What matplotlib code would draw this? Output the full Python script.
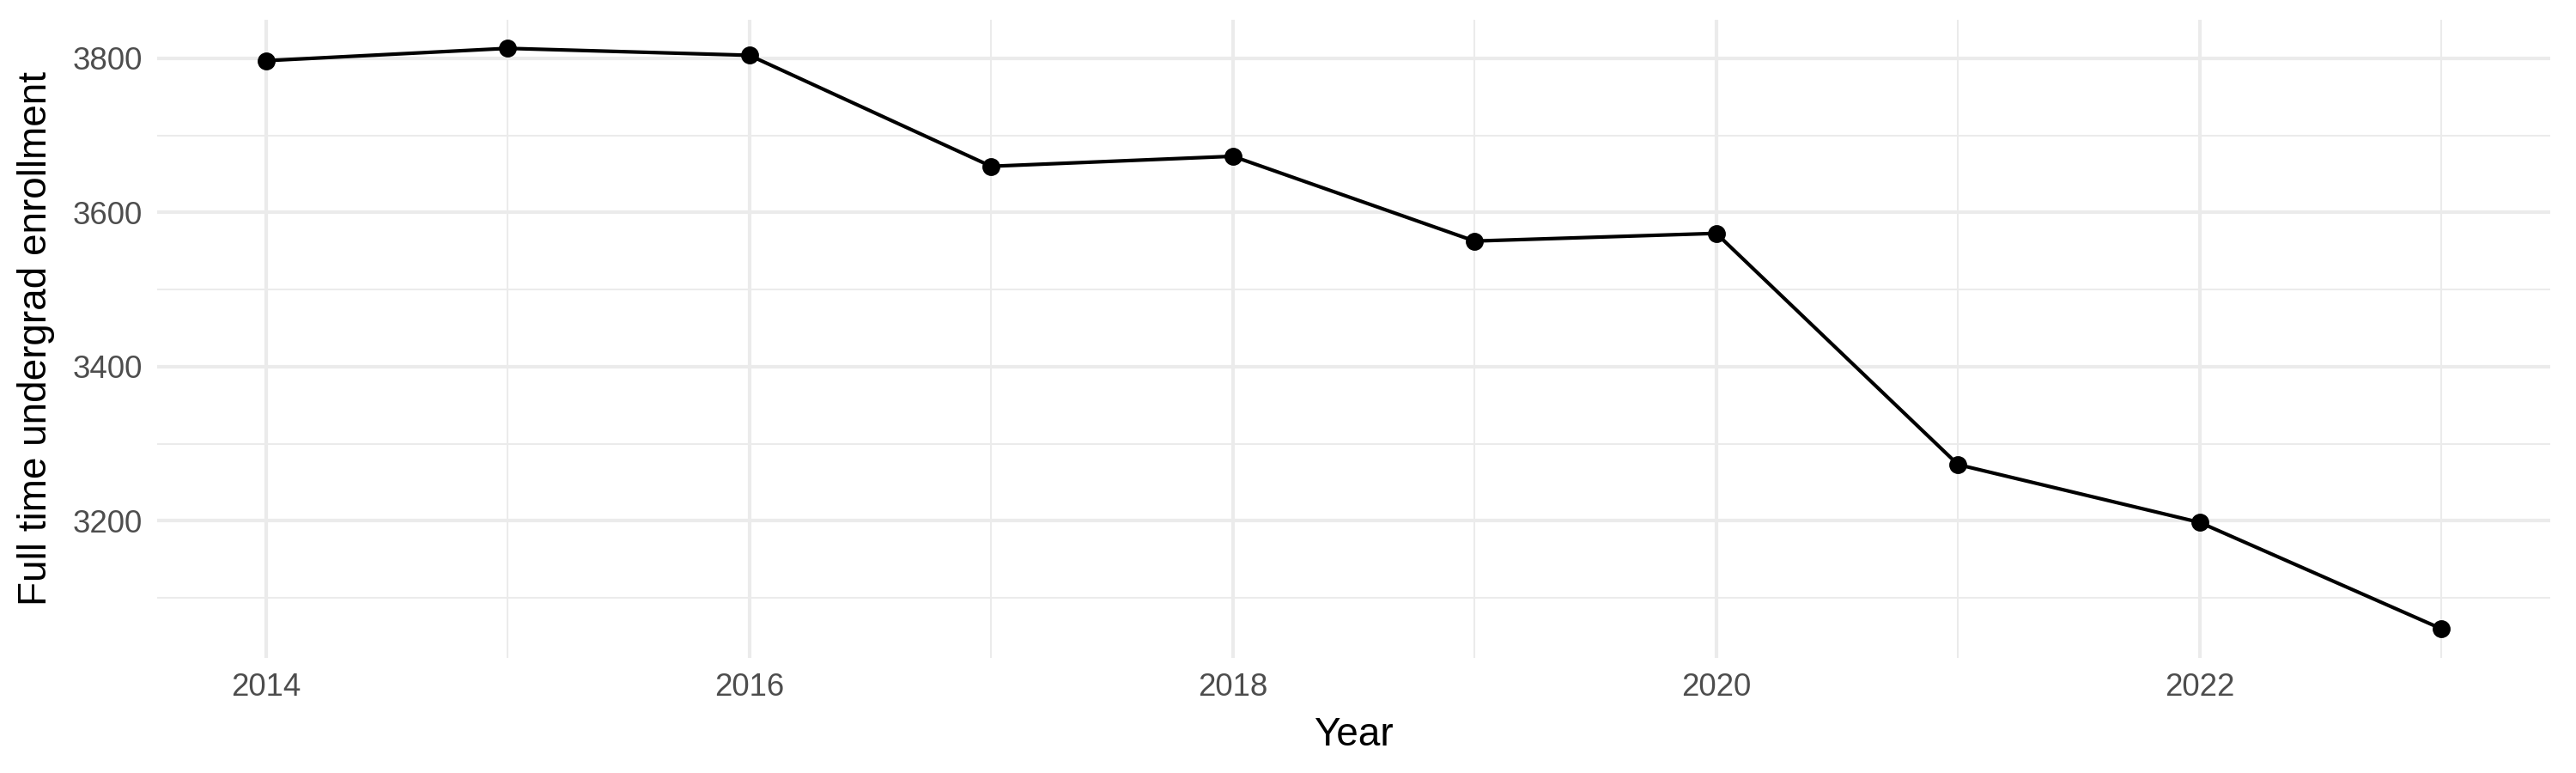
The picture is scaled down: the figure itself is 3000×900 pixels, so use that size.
import matplotlib
matplotlib.use("Agg")
import matplotlib.pyplot as plt
from matplotlib.ticker import MultipleLocator

# enrollment by year
years = [2014, 2015, 2016, 2017, 2018, 2019, 2020, 2021, 2022, 2023]
enrollment = [3797, 3813, 3804, 3660, 3673, 3563, 3573, 3273, 3198, 3060]

x_label = "Year"
y_label = "Full time undergrad enrollment"

plt.rcParams['font.family'] = ['Liberation Sans', 'DejaVu Sans']

fig = plt.figure(figsize=(10, 3), dpi=300)
ax = fig.add_axes([0.061, 0.149, 0.929, 0.826])

# ggplot-like expansion of 5% on both axes
xr = max(years) - min(years)
yr = max(enrollment) - min(enrollment)
ax.set_xlim(min(years) - 0.05 * xr, max(years) + 0.05 * xr)
ax.set_ylim(min(enrollment) - 0.05 * yr, max(enrollment) + 0.05 * yr)

ax.xaxis.set_major_locator(MultipleLocator(2))
ax.xaxis.set_minor_locator(MultipleLocator(1))
ax.yaxis.set_major_locator(MultipleLocator(200))
ax.yaxis.set_minor_locator(MultipleLocator(100))

ax.grid(which='major', color='#EBEBEB', linewidth=1.0)
ax.grid(which='minor', color='#EBEBEB', linewidth=0.5)
ax.set_axisbelow(True)

ax.plot(years, enrollment, color='black', linewidth=1.0, zorder=3)
ax.plot(years, enrollment, 'o', color='black', markersize=4, zorder=4)

for s in ax.spines.values():
    s.set_visible(False)
ax.tick_params(which='both', length=0)
ax.tick_params(axis='both', labelsize=8.8, labelcolor='#4D4D4D', pad=4)

ax.set_xlabel(x_label, fontsize=11, labelpad=4)
ax.set_ylabel(y_label, fontsize=11, labelpad=5)

fig.savefig("out.png", dpi=300, facecolor='white')
